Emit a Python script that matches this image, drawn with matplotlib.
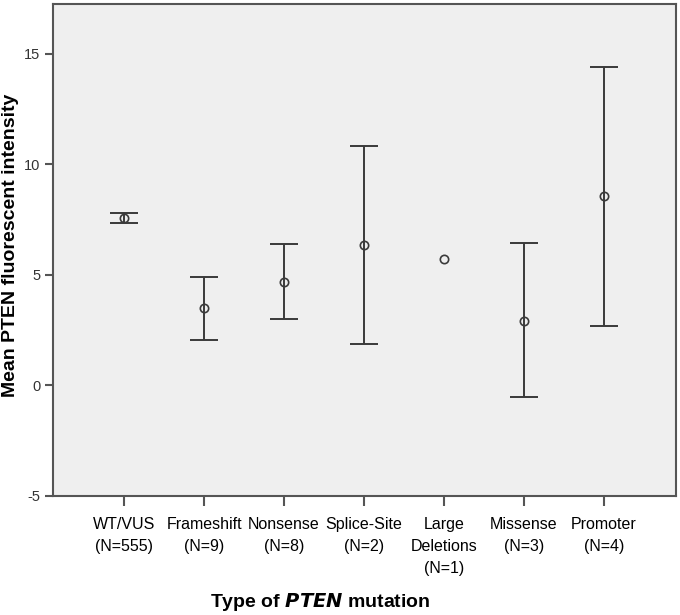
import numpy as np
import matplotlib
matplotlib.use("Agg")
from matplotlib import pyplot as plt

plt.rcParams['font.family'] = ['Liberation Sans', 'DejaVu Sans']
plt.rcParams['axes.unicode_minus'] = False

# group labels and the mean / 95% CI
groups = ["WT/VUS\n(N=555)", "Frameshift\n(N=9)", "Nonsense\n(N=8)", "Splice-Site\n(N=2)",
          "Large\nDeletions\n(N=1)", "Missense\n(N=3)", "Promoter\n(N=4)"]
means = [7.56, 3.48, 4.66, 6.33, 5.73, 2.93, 8.55]
lower = [7.33, 2.03, 2.99, 1.86, 5.73, -0.54, 2.67]
upper = [7.78, 4.92, 6.38, 10.81, 5.73, 6.42, 14.39]
yticks = [-5, 0, 5, 10, 15]

fig = plt.figure(figsize=(6.8, 6.15), dpi=100)
ax = fig.add_axes([0.078, 0.1935, 0.916, 0.80])
ax.set_facecolor("#efefef")

x = np.arange(len(groups))
m = np.array(means)
err = [m - np.array(lower), np.array(upper) - m]
has_ci = np.array(upper) > np.array(lower)
ax.errorbar(x[has_ci], m[has_ci], yerr=[err[0][has_ci], err[1][has_ci]], fmt="none",
            ecolor="#3a3a3a", elinewidth=1.4, capsize=10, capthick=1.4)
ax.plot(x, m, "o", ms=6, mfc="none", mec="#3a3a3a", mew=1.2)

ax.set_xlim(-0.89, 6.9)
ax.set_ylim(-5, 17.24)
ax.set_yticks(yticks)
ax.set_xticks(x)
ax.set_xticklabels(groups, fontsize=11.5, linespacing=1.6)
ax.tick_params(axis="x", length=7, width=1.5, color="#555555", pad=8)
ax.tick_params(axis="y", length=6, width=1.5, color="#555555", labelsize=10.5, labelcolor="#333333", pad=3)
for s in ax.spines.values():
    s.set_color("#555555")
    s.set_linewidth(1.5)

fig.text(11/680, 1 - 245/615, "Mean PTEN fluorescent intensity", fontsize=14, fontweight="bold",
         rotation=90, ha="center", va="center")
fig.text(320/680, 1 - 602/615, "Type of $\\bfit{PTEN}$ mutation", fontsize=14, fontweight="bold",
         ha="center", va="center")

fig.savefig("out.png", dpi=100)
